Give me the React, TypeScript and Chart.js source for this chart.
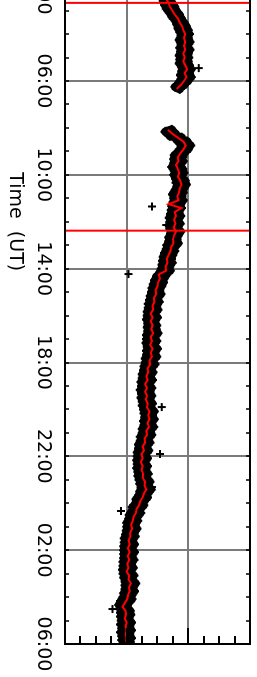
import React, { useEffect, useRef } from "react";
import { Chart, registerables } from "chart.js";

Chart.register(...registerables);

// ---- axes ----
const TIME_MIN = -6; // 18:00 of the previous day (hours)
const TIME_MAX = 30; // 06:00 of the next day
const TIME_TICKS = [-6, -2, 2, 6, 10, 14, 18, 22, 26, 30];
const TIME_LABELS = ["18:00", "22:00", "02:00", "06:00", "10:00", "14:00", "18:00", "22:00", "02:00", "06:00"];
const VALUE_MIN = 0;
const VALUE_MAX = 30;
const VALUE_TICKS = [0, 10, 20, 30];
const VALUE_MINOR_STEP = 2.5;
const AXIS_TITLE = "Time  (UT)";

// ---- event markers (hours) ----
const EVENT_TIMES = [2.67, 12.38];

// ---- data ----
const SEG1_START = 2.0;
const SEG2_START = 8.0833;
const SMOOTH_STEP = 1 / 6; // 10 min
const RAW_STEP = 1 / 12; // 5 min

const seg1Smooth = [15.6, 15.9, 16.1, 16.4, 16.8, 17.0, 17.4, 17.8, 18.3, 18.6, 19.0, 19.2, 19.5, 19.3, 19.5, 19.3, 19.5, 19.2, 19.4, 19.2, 19.5, 19.8, 19.4, 19.7, 19.3, 18.8, 18.1];

const seg1Raw = [16.2, 15.1, 16.4, 15.4, 16.7, 15.7, 17.0, 16.0, 17.3, 16.2,
  17.7, 16.5, 18.0, 17.0, 18.5, 17.4, 18.8, 17.9, 19.2, 18.2,
  19.6, 18.4, 19.9, 18.7, 20.1, 18.9, 19.9, 18.6, 20.2, 18.9,
  19.8, 18.7, 20.2, 18.8, 19.9, 18.6, 20.0, 18.7, 19.9, 18.6,
  20.1, 19.0, 20.4, 19.0, 20.1, 18.8, 20.4, 18.9, 19.9, 18.5,
  19.3, 17.9, 18.6];

const seg2Smooth = [16.7, 17.4, 18.3, 19.2, 19.6, 19.2, 18.7, 18.3, 18.4, 18.0,
  18.3, 18.5, 18.3, 18.7, 18.9, 18.6, 18.5, 18.2, 18.4, 16.8,
  18.9, 17.8, 18.0, 17.7, 17.9, 17.6, 18.0, 17.7, 17.5, 17.6,
  17.2, 17.1, 16.8, 16.5, 16.6, 16.3, 16.4, 15.2, 15.4, 15.1,
  15.0, 14.7, 14.8, 14.4, 14.5, 14.2, 14.3, 13.9, 14.2, 13.9,
  14.2, 14.0, 14.3, 13.9, 14.1, 13.8, 14.2, 13.9, 14.1, 13.7,
  13.8, 13.4, 13.5, 13.2, 13.4, 13.0, 13.3, 13.0, 13.3, 13.1,
  13.4, 13.3, 13.7, 13.5, 13.7, 13.4, 13.6, 13.2, 13.3, 12.9,
  13.0, 12.6, 12.8, 12.4, 12.6, 12.3, 12.6, 12.4, 12.7, 12.6,
  13.0, 12.9, 13.2, 12.8, 12.6, 12.2, 12.0, 11.6, 11.5, 11.1,
  11.0, 10.7, 10.9, 10.6, 10.6, 10.3, 10.5, 10.2, 10.5, 10.2,
  10.4, 10.1, 10.3, 10.0, 10.4, 10.3, 10.7, 10.4, 10.5, 10.2,
  10.1, 9.7, 9.3, 9.8, 9.9, 9.7, 10.0, 9.8, 10.0, 9.8,
  10.0, 9.9];

const seg2Raw = [17.3, 16.3, 17.9, 17.0, 18.9, 18.1, 19.8, 18.7, 20.3, 18.9, 19.9, 18.4, 19.3, 17.8, 19.0, 17.7, 19.1, 17.7, 18.6, 17.4,
  19.0, 17.8, 19.2, 17.7, 18.9, 18.0, 19.4, 18.1, 19.6, 18.2, 19.2, 17.9, 19.1, 17.5, 18.9, 17.7, 19.1, 17.6, 18.7, 17.4,
  18.8, 17.3, 18.4, 17.2, 18.7, 17.0, 18.3, 17.2, 18.6, 17.0, 18.2, 17.1, 18.7, 17.2, 18.3, 16.9, 18.1, 16.9, 18.3, 16.6,
  17.8, 16.5, 17.7, 16.2, 17.4, 16.0, 17.2, 15.9, 17.3, 15.8, 16.9, 15.7, 17.0, 15.4, 16.4, 14.9, 16.0, 14.6, 15.9, 14.4,
  15.6, 14.2, 15.3, 14.1, 15.5, 13.9, 15.0, 13.8, 15.2, 13.6, 14.8, 13.6, 15.0, 13.4, 14.5, 13.4, 14.9, 13.3, 14.5, 13.5,
  14.8, 13.4, 14.7, 13.5, 15.0, 13.3, 14.5, 13.3, 14.8, 13.2, 14.4, 13.4, 14.9, 13.3, 14.5, 13.3, 14.8, 13.1, 14.3, 13.1,
  14.5, 12.9, 14.0, 12.8, 14.2, 12.6, 13.8, 12.6, 14.1, 12.4, 13.6, 12.5, 14.0, 12.3, 13.7, 12.5, 14.0, 12.4, 13.7, 12.6,
  14.1, 12.6, 13.9, 12.8, 14.4, 12.9, 14.1, 13.0, 14.4, 12.8, 14.0, 12.9, 14.3, 12.6, 13.8, 12.6, 14.0, 12.3, 13.5, 12.3,
  13.7, 12.0, 13.2, 12.0, 13.5, 11.8, 13.0, 11.8, 13.3, 11.7, 12.9, 11.8, 13.3, 11.7, 13.0, 11.9, 13.4, 11.9, 13.2, 12.1,
  13.7, 12.2, 13.5, 12.4, 13.9, 12.2, 13.4, 12.0, 13.3, 11.6, 12.8, 11.5, 12.7, 11.0, 12.2, 10.9, 12.2, 10.5, 11.7, 10.4,
  11.7, 10.1, 11.3, 10.1, 11.6, 10.0, 11.2, 9.9, 11.3, 9.7, 10.9, 9.7, 11.2, 9.6, 10.8, 9.6, 11.2, 9.6, 10.8, 9.6,
  11.1, 9.5, 10.7, 9.5, 11.0, 9.4, 10.6, 9.5, 11.1, 9.6, 10.9, 9.8, 11.4, 9.8, 11.0, 9.8, 11.2, 9.6, 10.8, 9.5,
  10.8, 9.1, 10.3, 8.8, 10.0, 9.0, 10.5, 9.1, 10.6, 9.1, 10.3, 9.2, 10.7, 9.1, 10.4, 9.3, 10.7, 9.1, 10.4, 9.3,
  10.7, 9.3, 10.5];

const outlierTimes = [5.45, 11.35, 12.14, 14.23, 19.9, 21.9, 23.31, 24.33, 28.51];
const outlierValues = [21.7, 14.1, 16.4, 10.3, 15.7, 15.4, 14.1, 9.1, 7.7];

// ---- layout ----
const CANVAS_W = 925;
const CANVAS_H = 257;
const FONT = { family: "'DejaVu Sans', sans-serif", size: 19 };

const toPoints = (start: number, step: number, vals: number[]) =>
  vals.map((v, i) => ({ x: start + i * step, y: v }));

const framePlugin = {
  id: "frameTicks",
  afterDatasetsDraw(chart: any) {
    const { ctx, chartArea: a, scales } = chart;
    const xs = scales.x;
    const ys = scales.y;
    ctx.save();
    ctx.strokeStyle = "#000";
    ctx.lineWidth = 1.5;
    ctx.beginPath();
    for (let h = Math.ceil(TIME_MIN); h <= TIME_MAX; h++) {
      const px = Math.round(xs.getPixelForValue(h));
      ctx.moveTo(px, a.bottom);
      ctx.lineTo(px, a.bottom - 4);
      ctx.moveTo(px, a.top);
      ctx.lineTo(px, a.top + 4);
    }
    ctx.stroke();
    ctx.lineWidth = 2;
    ctx.beginPath();
    const n = Math.round((VALUE_MAX - VALUE_MIN) / VALUE_MINOR_STEP);
    for (let i = 0; i <= n; i++) {
      const v = VALUE_MIN + i * VALUE_MINOR_STEP;
      const py = Math.round(ys.getPixelForValue(v));
      const len = VALUE_TICKS.includes(v) ? 16 : 8;
      ctx.moveTo(a.right, py);
      ctx.lineTo(a.right - len, py);
      ctx.moveTo(a.left, py);
      ctx.lineTo(a.left + len, py);
    }
    ctx.stroke();
    ctx.lineWidth = 2;
    ctx.strokeRect(a.left, a.top, a.right - a.left, a.bottom - a.top);
    ctx.restore();
  },
};

export default function App() {
  const ref = useRef<HTMLCanvasElement | null>(null);

  useEffect(() => {
    document.documentElement.style.overflow = "hidden";
    document.body.style.overflow = "hidden";
    const canvas = ref.current;
    if (!canvas) return;

    const blackBand = (data: any[]) => ({
      data,
      showLine: true,
      borderColor: "#000",
      borderWidth: 9,
      borderJoinStyle: "round",
      borderCapStyle: "round",
      pointRadius: 0,
      order: 5,
    });
    const raw = (data: any[]) => ({
      data,
      showLine: false,
      pointStyle: "cross",
      pointRadius: 5,
      pointBorderWidth: 2,
      pointBorderColor: "#000",
      pointBackgroundColor: "#000",
      order: 4,
    });
    const smooth = (data: any[]) => ({
      data,
      showLine: true,
      borderColor: "#ff0000",
      borderWidth: 2,
      pointRadius: 0,
      order: 2,
    });

    const s1 = toPoints(SEG1_START, SMOOTH_STEP, seg1Smooth);
    const s2 = toPoints(SEG2_START, SMOOTH_STEP, seg2Smooth);
    const r1 = toPoints(SEG1_START, RAW_STEP, seg1Raw);
    const r2 = toPoints(SEG2_START, RAW_STEP, seg2Raw);
    const outliers = outlierTimes.map((t, i) => ({ x: t, y: outlierValues[i] }));

    const events = EVENT_TIMES.map((t) => ({
      data: [
        { x: t, y: VALUE_MIN },
        { x: t, y: VALUE_MAX },
      ],
      showLine: true,
      borderColor: "#ff0000",
      borderWidth: 2,
      pointRadius: 0,
      order: 1,
    }));

    const gridColor = (edgeMin: number, edgeMax: number) => (c: any) =>
      c.tick && (c.tick.value === edgeMin || c.tick.value === edgeMax) ? "rgba(0,0,0,0)" : "#7a7a7a";

    const chart = new Chart(canvas, {
      type: "scatter",
      data: {
        datasets: [
          blackBand(r1),
          blackBand(r2),
          raw(r1),
          raw(r2),
          {
            data: outliers,
            showLine: false,
            pointStyle: "cross",
            pointRadius: 4,
            pointBorderWidth: 2,
            pointBorderColor: "#000",
            order: 3,
          },
          smooth(s1),
          smooth(s2),
          ...events,
        ] as any,
      },
      options: {
        animation: false,
        responsive: false,
        devicePixelRatio: 1,
        layout: { padding: { left: 40.5, right: 40, top: 5, bottom: 0 } },
        plugins: { legend: { display: false }, tooltip: { enabled: false } },
        scales: {
          x: {
            type: "linear",
            position: "bottom",
            min: TIME_MIN,
            max: TIME_MAX,
            afterBuildTicks: (s: any) => {
              s.ticks = TIME_TICKS.map((v) => ({ value: v }));
            },
            afterFit: (s: any) => {
              s.height = 65;
            },
            ticks: {
              autoSkip: false,
              maxRotation: 0,
              minRotation: 0,
              padding: 11,
              color: "#000",
              font: FONT,
              callback: (_v: any, i: number) => TIME_LABELS[i],
            },
            grid: { color: gridColor(TIME_MIN, TIME_MAX), lineWidth: 2, drawTicks: false },
            border: { display: false },
            title: {
              display: true,
              text: AXIS_TITLE,
              color: "#000",
              font: FONT,
              padding: { top: 0, bottom: 4 },
            },
          },
          y: {
            type: "linear",
            position: "left",
            min: VALUE_MIN,
            max: VALUE_MAX,
            afterBuildTicks: (s: any) => {
              s.ticks = VALUE_TICKS.map((v) => ({ value: v }));
            },
            afterFit: (s: any) => {
              s.width = 0;
            },
            ticks: { display: false },
            grid: { color: gridColor(VALUE_MIN, VALUE_MAX), lineWidth: 2, drawTicks: false },
            border: { display: false },
          },
        },
      },
      plugins: [framePlugin],
    } as any);

    return () => chart.destroy();
  }, []);

  return (
    <div
      style={{
        position: "fixed",
        left: 0,
        top: 0,
        width: CANVAS_W,
        height: CANVAS_H,
        transformOrigin: "0 0",
        transform: `translate(${CANVAS_H}px, -241px) rotate(90deg)`,
        background: "#fff",
      }}
    >
      <canvas ref={ref} width={CANVAS_W} height={CANVAS_H} style={{ display: "block" }} />
    </div>
  );
}
